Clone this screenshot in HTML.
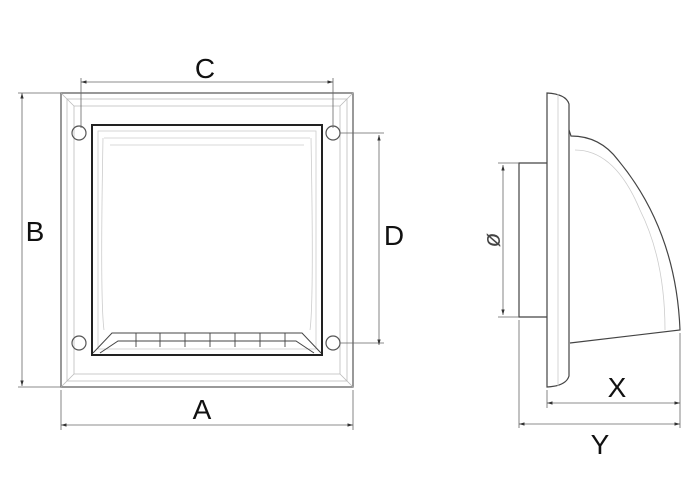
<!DOCTYPE html>
<html><head><style>body{margin:0;background:#fff}svg{display:block}</style></head><body>
<svg width="700" height="500" viewBox="0 0 700 500" xmlns="http://www.w3.org/2000/svg" font-family="Liberation Sans, sans-serif">
<defs><marker id="ar" viewBox="0 0 10 10" refX="10" refY="5" markerWidth="7" markerHeight="7" orient="auto-start-reverse"><path d="M0,2 L10,5 L0,8 z" fill="#333"/></marker></defs>
<g fill="none" stroke="#555" stroke-width="1.2">
<rect x="61" y="93" width="292" height="294"/>
<rect x="67" y="99" width="280" height="282" stroke="#bbb" stroke-width="0.8"/>
<path d="M61,93 L74,106 L340,106 L353,93 M61,387 L74,374 L340,374 L353,387 M74,106 L74,374 M340,106 L340,374" stroke="#bbb" stroke-width="0.8"/>
<rect x="92" y="125" width="230" height="230" stroke="#222" stroke-width="2"/>
<rect x="98" y="131" width="218" height="218" stroke="#ccc" stroke-width="0.8"/>
<path d="M103,138 Q100,300 104,330 M311,138 Q314,300 310,330 M104,138 L310,138 M110,145 L304,145" stroke="#ccc" stroke-width="0.8"/>
<path d="M93,353 L112,333 L302,333 L321,353 M100,353 L118,341 L296,341 L314,353" stroke="#444" stroke-width="1"/>
<path d="M136,333 V347 M160,333 V347 M185,333 V347 M210,333 V347 M235,333 V347 M260,333 V347 M285,333 V347" stroke="#444" stroke-width="0.9"/>
<circle cx="79" cy="133" r="7"/><circle cx="333" cy="133" r="7"/><circle cx="79" cy="343" r="7"/><circle cx="333" cy="343" r="7"/>
</g>
<g stroke="#666" stroke-width="0.8" fill="none">
<path d="M81,128 V78 M333,128 V78 M18,93 H61 M18,387 H61 M61,390 V430 M353,390 V430 M340,133 H384 M340,343 H384"/>
<path d="M81,82 H333" marker-start="url(#ar)" marker-end="url(#ar)"/>
<path d="M22,93 V386" marker-start="url(#ar)" marker-end="url(#ar)"/>
<path d="M61,425 H353" marker-start="url(#ar)" marker-end="url(#ar)"/>
<path d="M379,135 V345" marker-start="url(#ar)" marker-end="url(#ar)"/>
</g>
<g fill="none" stroke="#444" stroke-width="1.2">
<path d="M547,93 Q566,94 569,104 L569,376 Q566,386 547,387 Z"/>
<path d="M558,94 V386" stroke="#ccc" stroke-width="0.8"/>
<path d="M547,163 H519 V317 H547"/>
<path d="M569,130 L571,136 Q600,136 618,160 Q676,230 680,330 L570,343"/>
<path d="M575,150 Q615,150 640,210 Q665,260 665,330" stroke="#ccc" stroke-width="0.8"/>
</g>
<g stroke="#666" stroke-width="0.8" fill="none">
<path d="M498,163 H519 M498,317 H519 M547,390 V408 M519,320 V428 M680,333 V428"/>
<path d="M503,165 V315" marker-start="url(#ar)" marker-end="url(#ar)"/>
<path d="M547,403 H680" marker-start="url(#ar)" marker-end="url(#ar)"/>
<path d="M519,424 H680" marker-start="url(#ar)" marker-end="url(#ar)"/>
</g>
<g fill="#111" font-size="28" text-anchor="middle">
<text x="205" y="78">C</text>
<text x="35" y="241">B</text>
<text x="202" y="419">A</text>
<text x="394" y="245">D</text>
<text x="617" y="397">X</text>
<text x="600" y="454">Y</text>
<text x="493" y="247" font-size="24" font-style="italic" fill="#444" transform="rotate(-90 493 240)">ø</text>
</g>
</svg>
</body></html>
